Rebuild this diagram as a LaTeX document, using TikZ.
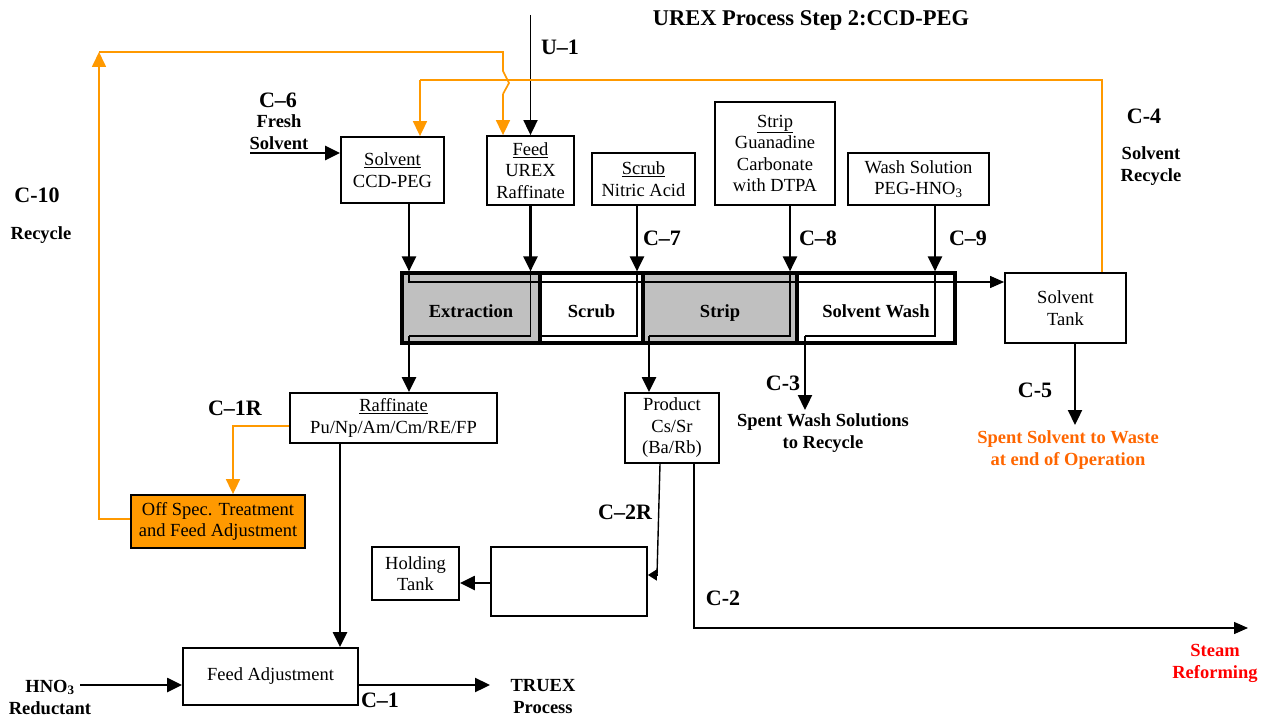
\documentclass[tikz,border=0pt]{standalone}
\usepackage{fontspec}
\setmainfont{Liberation Serif}
\usetikzlibrary{arrows.meta}
\definecolor{orng}{RGB}{255,153,0}
\definecolor{orngtxt}{RGB}{255,102,0}
\definecolor{redtxt}{RGB}{255,0,0}
\definecolor{grayfill}{RGB}{192,192,192}
\newcommand\fn{\fontsize{18.5}{21.5}\selectfont}
\newcommand\fb{\fontsize{18.5}{22}\selectfont\bfseries}
\newcommand\fc{\fontsize{22}{26}\selectfont\bfseries}
\begin{document}
\begin{tikzpicture}[x=1pt,y=-1pt,
  box/.style={draw,line width=1.8pt,align=center,inner sep=0pt,font=\fn},
  cbox/.style={draw,line width=3.2pt,align=center,inner sep=0pt,font=\fb,minimum height=70pt,text height=19pt,text depth=0pt},
  arr/.style={line width=2.3pt,-{Triangle[length=15pt,width=14pt]}},
  tarr/.style={line width=1.4pt,-{Triangle[length=14pt,width=12pt]}},
  oarr/.style={line width=1.7pt,orng,-{Triangle[length=15pt,width=14pt]}},
  oline/.style={line width=1.7pt,orng},
  flow/.style={line width=1.2pt},
  lab/.style={inner sep=0pt,font=\fc},
  blab/.style={inner sep=0pt,font=\fb,align=center}]
\path[use as bounding box] (0,0) rectangle (1274,722);

% top feed boxes
\node[box,minimum width=103pt,minimum height=66pt] (solv) at (392.5,170) {\underline{Solvent}\\CCD-PEG};
\node[box,minimum width=87pt,minimum height=69pt] (feed) at (530.5,170.5) {\underline{Feed}\\UREX\\Raffinate};
\node[box,minimum width=103pt,minimum height=52pt] (scrub) at (643.5,179) {\underline{Scrub}\\Nitric Acid};
\node[box,minimum width=120pt,minimum height=103pt] (strip) at (775,153.5) {\underline{Strip}\\Guanadine\\Carbonate\\with DTPA};
\node[box,minimum width=141pt,minimum height=52pt] (wash) at (918.5,179) {Wash Solution\\PEG-HNO\textsubscript{3}};

% contactor bar
\node[cbox,fill=grayfill,minimum width=138pt] (ext) at (471,308) {Extraction};
\node[cbox,minimum width=103pt] (scc) at (591.5,308) {Scrub};
\node[cbox,fill=grayfill,minimum width=154pt] (stc) at (720,308) {Strip};
\node[cbox,minimum width=158pt] (swc) at (876,308) {Solvent Wash};

\node[box,minimum width=121pt,minimum height=70pt] (tank) at (1065.5,308) {Solvent\\Tank};

% lower boxes
\node[box,minimum width=207pt,minimum height=50pt] (raf) at (393.5,418) {\underline{Raffinate}\\Pu/Np/Am/Cm/RE/FP};
\node[box,minimum width=94pt,minimum height=70pt] (prod) at (672,428) {Product\\Cs/Sr\\(Ba/Rb)};
\node[box,fill=orng,minimum width=174pt,minimum height=53pt] (offs) at (218,521.5) {Off Spec. Treatment\\and Feed Adjustment};
\node[box,minimum width=156pt,minimum height=69pt] (empty) at (569,581.5) {};
\node[box,minimum width=87pt,minimum height=53pt] (hold) at (415.5,573.5) {Holding\\Tank};
\node[box,minimum width=175pt,minimum height=57pt] (fadj) at (270.5,676.5) {Feed Adjustment};

% helper coordinates
\coordinate (xA) at (409,0);
\coordinate (xC) at (637,0);
\coordinate (xD) at (790,0);
\coordinate (xE) at (935,0);
\coordinate (xF) at (649,0);
\coordinate (xG) at (805,0);
\coordinate (xH) at (1075,0);
\coordinate (xI) at (340,0);
\coordinate (xK) at (1102,0);
\coordinate (xL) at (420,0);
\coordinate (xM) at (660,0);
\coordinate (xN) at (694,0);
\coordinate (yT) at (0,282);
\coordinate (yB) at (0,336);
\coordinate (u1) at (530.5,15);
\coordinate (fs) at (250,153);
\coordinate (c3end) at (805,410);
\coordinate (c5end) at (1075,425);
\coordinate (hno) at (80,685);
\coordinate (truex) at (490,685);
\coordinate (c2a) at (694,628);
\coordinate (c2end) at (1248,628);
\coordinate (c2ra) at (657,575);
\coordinate (ylo) at (0,583);
\coordinate (c10a) at (99,519);
\coordinate (c10b) at (99,52);
\coordinate (c10c) at (503,52);
\coordinate (hop1) at (503,71);
\coordinate (hop2) at (509,83);
\coordinate (hop3) at (503,94);
\coordinate (c4y) at (0,80);
\coordinate (c1ra) at (233,426);

% feed arrows into bar
\draw[arr,line width=1.8pt] (u1) -- (feed.north);
\draw[arr] (solv.south -| xA) -- (ext.north -| xA);
\draw[arr] (feed.south) -- (ext.north -| feed.south);
\draw[arr] (scrub.south -| xC) -- (scc.north -| xC);
\draw[arr] (strip.south -| xD) -- (stc.north -| xD);
\draw[arr] (wash.south -| xE) -- (swc.north -| xE);
\draw[arr] (fs) -- (solv.west |- fs);

% flows inside the bar
\draw[flow,-{Triangle[length=14pt,width=12pt]}] (ext.north -| xA) -- (xA |- yT) -- (tank.west |- yT);
\draw[flow] (ext.north -| feed.south) -- (feed.south |- yB) -- (xA |- yB);
\draw[arr] (xA |- yB) -- (raf.north -| xA);
\draw[flow] (scc.north -| xC) -- (xC |- yB) -- (ext.east |- yB);
\draw[flow] (stc.north -| xD) -- (xD |- yB) -- (xF |- yB);
\draw[arr] (xF |- yB) -- (prod.north -| xF);
\draw[flow] (swc.north -| xE) -- (xE |- yB) -- (xG |- yB);
\draw[arr] (xG |- yB) -- (c3end);
\draw[arr] (tank.south -| xH) -- (c5end);

% orange recycle lines
\draw[oline] (tank.north -| xK) -- (xK |- c4y) -- (xL |- c4y);
\draw[oarr] (xL |- c4y) -- (solv.north -| xL);
\draw[oarr] (offs.west |- c10a) -- (c10a) -- (c10b);
\draw[oline] (c10b) -- (c10c) -- (hop1) -- (hop2) -- (hop3);
\draw[oarr] (hop3) -- (feed.north -| hop3);
\draw[oarr] (raf.west |- c1ra) -- (c1ra) -- (offs.north -| c1ra);

% lower flows
\draw[arr] (raf.south -| xI) -- (fadj.north -| xI);
\draw[arr] (hno) -- (fadj.west |- hno);
\draw[arr] (fadj.east |- truex) -- (truex);
\draw[line width=1.4pt] (prod.south -| xM) -- (c2ra);
\draw[line width=1.4pt,-{Triangle[length=9pt,width=11pt]}] (c2ra) -- (empty.east |- c2ra);
\draw[tarr] (prod.south -| xN) -- (c2a) -- (c2end);
\draw[arr] (empty.west |- ylo) -- (hold.east |- ylo);

% labels
\node[inner sep=0pt,font=\fontsize{22.5}{26}\selectfont\bfseries] (title) at (811,20) {UREX Process Step 2:CCD-PEG};
\node[lab] (lu1) at (560,47) {U–1};
\node[lab] (lc6) at (278,100) {C–6};
\node[blab] (lfs) at (279,132) {Fresh\\Solvent};
\node[lab] (lc10) at (37,195) {C-10};
\node[blab] (lrec) at (41,235) {Recycle};
\node[lab] (lc7) at (662,238) {C–7};
\node[lab] (lc8) at (818,238) {C–8};
\node[lab] (lc9) at (968,238) {C–9};
\node[lab] (lc4) at (1144,116) {C-4};
\node[blab] (lsr) at (1151,166) {Solvent\\Recycle};
\node[lab] (lc1r) at (235,408) {C–1R};
\node[lab] (lc3) at (783,383) {C-3};
\node[blab] (lsw) at (823,433) {Spent Wash Solutions\\to Recycle};
\node[lab] (lc5) at (1035,390) {C-5};
\node[blab,text=orngtxt] (lss) at (1068,450) {Spent Solvent to Waste\\at end of Operation};
\node[lab] (lc2r) at (625,512) {C–2R};
\node[lab] (lc2) at (723,598) {C-2};
\node[blab,text=redtxt] (lsteam) at (1215,663) {Steam\\Reforming};
\node[blab] (lhno) at (50,697) {HNO\textsubscript{3}\\Reductant};
\node[lab] (lc1) at (380,700) {C–1};
\node[blab] (ltruex) at (543,697) {TRUEX\\Process};
\end{tikzpicture}
\end{document}
